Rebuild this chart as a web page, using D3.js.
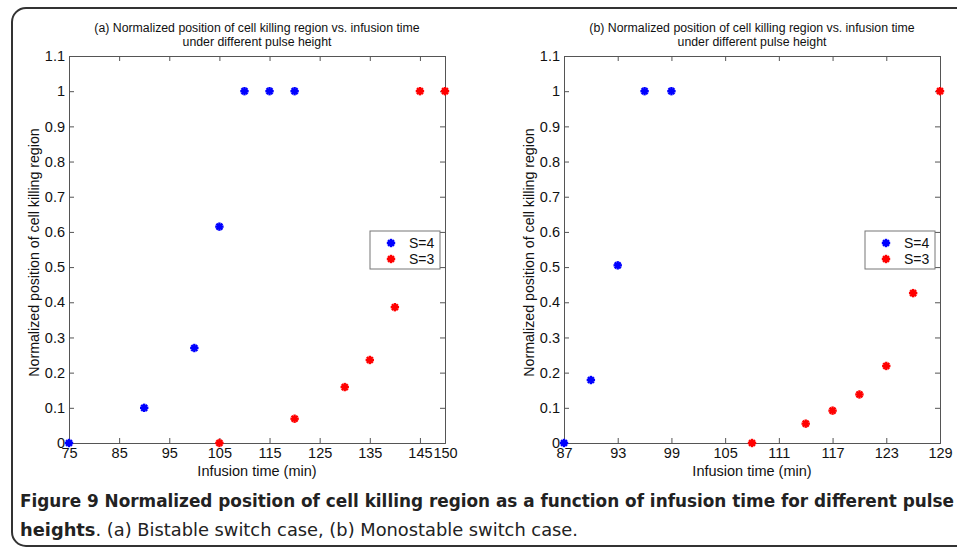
<!DOCTYPE html>
<html><head><meta charset="utf-8">
<script src="https://cdn.jsdelivr.net/npm/d3@7"></script>
<style>body{margin:0;background:#fff}svg{display:block}</style>
</head><body>
<script>
// Panel (a) – bistable
const aX4 = [75, 90, 100, 105, 110, 115, 120];
const aY4 = [0, 0.1, 0.27, 0.615, 1, 1, 1];
const aX3 = [105, 120, 130, 135, 140, 145, 150];
const aY3 = [0, 0.069, 0.159, 0.236, 0.386, 1, 1];
const aXTicks = [75, 85, 95, 105, 115, 125, 135, 145, 150];
// Panel (b) – monostable
const bX4 = [87, 90, 93, 96, 99];
const bY4 = [0, 0.179, 0.505, 1, 1];
const bX3 = [108, 114, 117, 120, 123, 126, 129];
const bY3 = [0, 0.055, 0.092, 0.138, 0.219, 0.426, 1];
const bXTicks = [87, 93, 99, 105, 111, 117, 123, 129];
const yTicks = [0, 0.1, 0.2, 0.3, 0.4, 0.5, 0.6, 0.7, 0.8, 0.9, 1, 1.1];
const seriesNames = ["S=4", "S=3"];
const seriesColors = ["#0000ff", "#ff0000"];
const titlesA = ["(a) Normalized position of cell killing region vs. infusion time", "under different pulse height"];
const titlesB = ["(b) Normalized position of cell killing region vs. infusion time", "under different pulse height"];

const W = 957, H = 549;
const svg = d3.select("body").append("svg").attr("width", W).attr("height", H);
svg.append("rect").attr("x", 12).attr("y", 8).attr("width", 980).attr("height", 538)
  .attr("rx", 14).attr("fill", "#fff").attr("stroke", "#333").attr("stroke-width", 2);

const FONT = "'Liberation Sans', Arial, sans-serif";
const axisCol = "#555";

function star(g, x, y, col) {
  const r = 4.2;
  const s = g.append("g").attr("transform", `translate(${x},${y})`);
  [0, 45, 90, 135].forEach(a => {
    const rad = a * Math.PI / 180;
    s.append("line").attr("x1", -r * Math.cos(rad)).attr("y1", -r * Math.sin(rad))
      .attr("x2", r * Math.cos(rad)).attr("y2", r * Math.sin(rad))
      .attr("stroke", col).attr("stroke-width", 2.4);
  });
  s.append("circle").attr("r", 2.4).attr("fill", col);
}

function panel(cfg) {
  const {left, right, top, bottom, xDom, xTicks, s4x, s4y, s3x, s3y, titles} = cfg;
  const x = d3.scaleLinear().domain(xDom).range([left, right]);
  const y = d3.scaleLinear().domain([0, 1.1]).range([bottom, top]);
  const g = svg.append("g");
  const ax = g.append("g").attr("transform", `translate(0,${bottom})`)
    .call(d3.axisBottom(x).tickValues(xTicks).tickSize(-5).tickPadding(5).tickFormat(d3.format("d")));
  const axT = g.append("g").attr("transform", `translate(0,${top})`)
    .call(d3.axisTop(x).tickValues(xTicks).tickSize(-5).tickFormat(""));
  const ay = g.append("g").attr("transform", `translate(${left},0)`)
    .call(d3.axisLeft(y).tickValues(yTicks).tickSize(-5).tickPadding(4).tickFormat(d => d === 0 ? "0" : String(+d.toFixed(1))));
  const ayR = g.append("g").attr("transform", `translate(${right},0)`)
    .call(d3.axisRight(y).tickValues(yTicks).tickSize(-5).tickFormat(""));
  [ax, axT, ay, ayR].forEach(a => {
    a.attr("font-size", null).attr("font-family", null);
    a.selectAll("path,line").attr("stroke", axisCol).attr("stroke-width", 1);
    a.selectAll("text").style("font-family", FONT).style("font-size", "14.5px").attr("fill", "#111");
  });
  ax.selectAll("text").attr("dy", "0.71em");
  g.append("text").attr("x", (left + right) / 2).attr("y", 32).attr("text-anchor", "middle")
    .style("font-family", FONT).style("font-size", "12.3px").attr("fill", "#111").text(titles[0]);
  g.append("text").attr("x", (left + right) / 2).attr("y", 46).attr("text-anchor", "middle")
    .style("font-family", FONT).style("font-size", "12.3px").attr("fill", "#111").text(titles[1]);
  g.append("text").attr("x", (left + right) / 2).attr("y", 476).attr("text-anchor", "middle")
    .style("font-family", FONT).style("font-size", "14.5px").attr("fill", "#111").text("Infusion time (min)");
  g.append("text").attr("transform", `translate(${left - 30},${(top + bottom) / 2 + 3}) rotate(-90)`)
    .attr("text-anchor", "middle").style("font-family", FONT).style("font-size", "14.2px").attr("fill", "#111")
    .text("Normalized position of cell killing region");
  s4x.forEach((v, i) => star(g, x(v), y(s4y[i]), seriesColors[0]));
  s3x.forEach((v, i) => star(g, x(v), y(s3y[i]), seriesColors[1]));
  const lx = right - 75, ly = 231;
  g.append("rect").attr("x", lx).attr("y", ly).attr("width", 70).attr("height", 38)
    .attr("fill", "#fff").attr("stroke", "#777").attr("stroke-width", 1);
  seriesNames.forEach((n, i) => {
    star(g, lx + 21, ly + 12 + i * 16, seriesColors[i]);
    g.append("text").attr("x", lx + 39).attr("y", ly + 12 + i * 16).attr("dy", "0.35em")
      .style("font-family", FONT).style("font-size", "14px").attr("fill", "#111").text(n);
  });
}

panel({left: 69, right: 445, top: 56, bottom: 443, xDom: [75, 150], xTicks: aXTicks,
  s4x: aX4, s4y: aY4, s3x: aX3, s3y: aY3, titles: titlesA});
panel({left: 564, right: 940, top: 56, bottom: 443, xDom: [87, 129], xTicks: bXTicks,
  s4x: bX4, s4y: bY4, s3x: bX3, s3y: bY3, titles: titlesB});

const CAP = "'DejaVu Sans Condensed', 'Liberation Sans Narrow', 'Open Sans', sans-serif";
svg.append("text").attr("x", 20).attr("y", 507).style("font-family", CAP)
  .style("font-size", "18px").attr("font-weight", "bold").attr("fill", "#222")
  .attr("textLength", 934).attr("lengthAdjust", "spacingAndGlyphs")
  .text("Figure 9 Normalized position of cell killing region as a function of infusion time for different pulse");
const c2 = svg.append("text").attr("x", 20).attr("y", 536).style("font-family", CAP)
  .style("font-size", "18px").attr("fill", "#222")
  .attr("textLength", 558).attr("lengthAdjust", "spacingAndGlyphs");
c2.append("tspan").attr("font-weight", "bold").text("heights");
c2.append("tspan").text(". (a) Bistable switch case, (b) Monostable switch case.");
</script>
</body></html>
